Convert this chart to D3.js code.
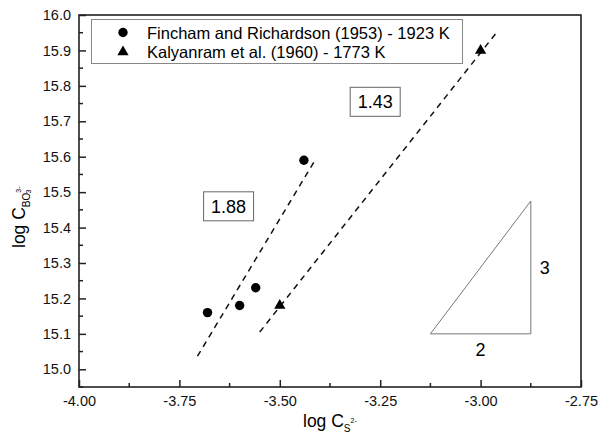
<!DOCTYPE html>
<html>
<head>
<meta charset="utf-8">
<script src="https://cdn.jsdelivr.net/npm/d3@7"></script>
<style>
  body { margin: 0; background: #fff; }
  svg { font-family: "Liberation Sans", Arial, sans-serif; }
</style>
</head>
<body>
<svg id="chart"></svg>
<script>
// data
const finchamX = [-3.68, -3.60, -3.56, -3.44];
const finchamY = [15.16, 15.18, 15.23, 15.59];
const kalyanramX = [-3.50, -3.00];
const kalyanramY = [15.18, 15.90];

// dashed fit lines (endpoints)
const fit1 = [[-3.705, 15.037], [-3.415, 15.585]];
const fit2 = [[-3.55, 15.105], [-2.962, 15.948]];

// slope triangle
const triangle = [[-3.125, 15.10], [-2.875, 15.10], [-2.875, 15.475]];

const legendLabels = ['Fincham and Richardson (1953) - 1923 K', 'Kalyanram et al. (1960) - 1773 K'];
const xTicks = [-4.00, -3.75, -3.50, -3.25, -3.00, -2.75];
const yTicks = [15.0, 15.1, 15.2, 15.3, 15.4, 15.5, 15.6, 15.7, 15.8, 15.9, 16.0];

let w = 599;
let h = 446;
let margin = {left: 79, right: 18, top: 15, bottom: 59};

let svg = d3.select('#chart')
  .attr('width', w)
  .attr('height', h);

let xScale = d3.scaleLinear()
  .domain([-4, -2.75])
  .range([margin.left, w - margin.right]);

let yScale = d3.scaleLinear()
  .domain([14.95, 16.0])
  .range([h - margin.bottom, margin.top]);

let x0 = xScale.range()[0], x1 = xScale.range()[1];
let y0 = yScale.range()[0], y1 = yScale.range()[1];

// minor ticks (inward)
let xMinor = d3.range(-4, -2.74, 0.125).filter((d) => !xTicks.some((t) => Math.abs(t - d) < 1e-6));
let yMinor = d3.range(14.95, 16.0, 0.1).map((d) => +d.toFixed(2));

svg.append('g')
  .selectAll('line')
  .data(xMinor)
  .enter()
  .append('line')
  .attr('x1', (d) => xScale(d)).attr('x2', (d) => xScale(d))
  .attr('y1', y0).attr('y2', y0 - 4)
  .attr('stroke', '#222').attr('stroke-width', 1.5);

svg.append('g')
  .selectAll('line')
  .data(yMinor)
  .enter()
  .append('line')
  .attr('x1', x0).attr('x2', x0 + 4)
  .attr('y1', (d) => yScale(d)).attr('y2', (d) => yScale(d))
  .attr('stroke', '#222').attr('stroke-width', 1.5);

// AXES
let xAxis = svg.append('g')
  .attr('transform', `translate(0, ${y0})`)
  .call(d3.axisBottom(xScale).tickValues(xTicks).tickFormat(d3.format('.2f'))
    .tickSizeInner(-7).tickSizeOuter(0).tickPadding(9));

let yAxis = svg.append('g')
  .attr('transform', `translate(${x0}, 0)`)
  .call(d3.axisLeft(yScale).tickValues(yTicks).tickFormat(d3.format('.1f'))
    .tickSizeInner(-7).tickSizeOuter(0).tickPadding(8));

[xAxis, yAxis].forEach((g) => {
  g.selectAll('.domain').remove();
  g.selectAll('line').attr('stroke', '#222').attr('stroke-width', 1.5);
  g.selectAll('text').attr('font-size', 14.5).attr('fill', '#111')
    .attr('font-family', '"Liberation Sans", Arial, sans-serif');
});
xAxis.selectAll('text').text((d) => d3.format('.2f')(d).replace('−', '-'));

// frame
svg.append('rect')
  .attr('x', x0).attr('y', y1)
  .attr('width', x1 - x0).attr('height', y0 - y1)
  .attr('fill', 'none').attr('stroke', '#222').attr('stroke-width', 1.6);

// fit lines
let line = d3.line().x((d) => xScale(d[0])).y((d) => yScale(d[1]));
[fit1, fit2].forEach((f) => {
  svg.append('path')
    .attr('d', line(f))
    .attr('fill', 'none')
    .attr('stroke', '#111')
    .attr('stroke-width', 1.5)
    .attr('stroke-dasharray', '6,5');
});

// slope triangle
svg.append('path')
  .attr('d', line(triangle) + 'Z')
  .attr('fill', 'none')
  .attr('stroke', '#777')
  .attr('stroke-width', 1);

svg.append('text')
  .attr('x', xScale(-2.875) + 9).attr('y', yScale(15.29) + 7)
  .attr('font-size', 18).text('3');
svg.append('text')
  .attr('x', xScale(-3.0)).attr('y', yScale(15.10) + 22)
  .attr('text-anchor', 'middle')
  .attr('font-size', 18).text('2');

// slope labels in boxes
function boxLabel(cx, cy, label) {
  svg.append('rect')
    .attr('x', cx - 25).attr('y', cy - 14.5)
    .attr('width', 50).attr('height', 29)
    .attr('fill', '#fff').attr('stroke', '#666').attr('stroke-width', 1);
  svg.append('text')
    .attr('x', cx).attr('y', cy + 6.5)
    .attr('text-anchor', 'middle')
    .attr('font-size', 18).text(label);
}
boxLabel(xScale(-3.6275), yScale(15.46), '1.88');
boxLabel(xScale(-3.2625), yScale(15.755), '1.43');

// points
let fincham = finchamX.map((x, i) => ({x: x, y: finchamY[i]}));
let kalyanram = kalyanramX.map((x, i) => ({x: x, y: kalyanramY[i]}));

svg.selectAll('circle.pt')
  .data(fincham)
  .enter()
  .append('circle')
  .attr('class', 'pt')
  .attr('cx', (d) => xScale(d.x))
  .attr('cy', (d) => yScale(d.y))
  .attr('r', 4.7)
  .attr('fill', '#000');

let tri = d3.symbol().type(d3.symbolTriangle).size(55);
svg.selectAll('path.tri')
  .data(kalyanram)
  .enter()
  .append('path')
  .attr('class', 'tri')
  .attr('d', tri)
  .attr('transform', (d) => `translate(${xScale(d.x)}, ${yScale(d.y)})`)
  .attr('fill', '#000');

// legend
let legend = svg.append('g');
legend.append('rect')
  .attr('x', 91.5).attr('y', 19.5)
  .attr('width', 371).attr('height', 44)
  .attr('fill', '#fff').attr('stroke', '#888').attr('stroke-width', 1);
legend.append('circle')
  .attr('cx', 123).attr('cy', 32.5).attr('r', 4.7).attr('fill', '#000');
legend.append('path')
  .attr('d', tri)
  .attr('transform', 'translate(123, 52)')
  .attr('fill', '#000');
legend.selectAll('text')
  .data(legendLabels)
  .enter()
  .append('text')
  .attr('x', 147)
  .attr('y', (d, i) => 38.5 + i * 19.5)
  .attr('font-size', 16.5)
  .text((d) => d);

// axis titles
let xt = svg.append('text')
  .attr('x', 303).attr('y', 427)
  .attr('font-size', 17.5);
xt.append('tspan').text('log C');
xt.append('tspan').attr('font-size', 10).attr('dy', 5).text('S');
xt.append('tspan').attr('font-size', 7).attr('dy', -9).text('2-');

let yt = svg.append('text')
  .attr('transform', 'translate(25, 248) rotate(-90)')
  .attr('font-size', 17.5);
yt.append('tspan').text('log C');
yt.append('tspan').attr('font-size', 10).attr('dy', 5).text('BO');
yt.append('tspan').attr('font-size', 7).attr('dy', -9).text('3-');
yt.append('tspan').attr('font-size', 7).attr('dx', -7).attr('dy', 10).text('3');
</script>
</body>
</html>
